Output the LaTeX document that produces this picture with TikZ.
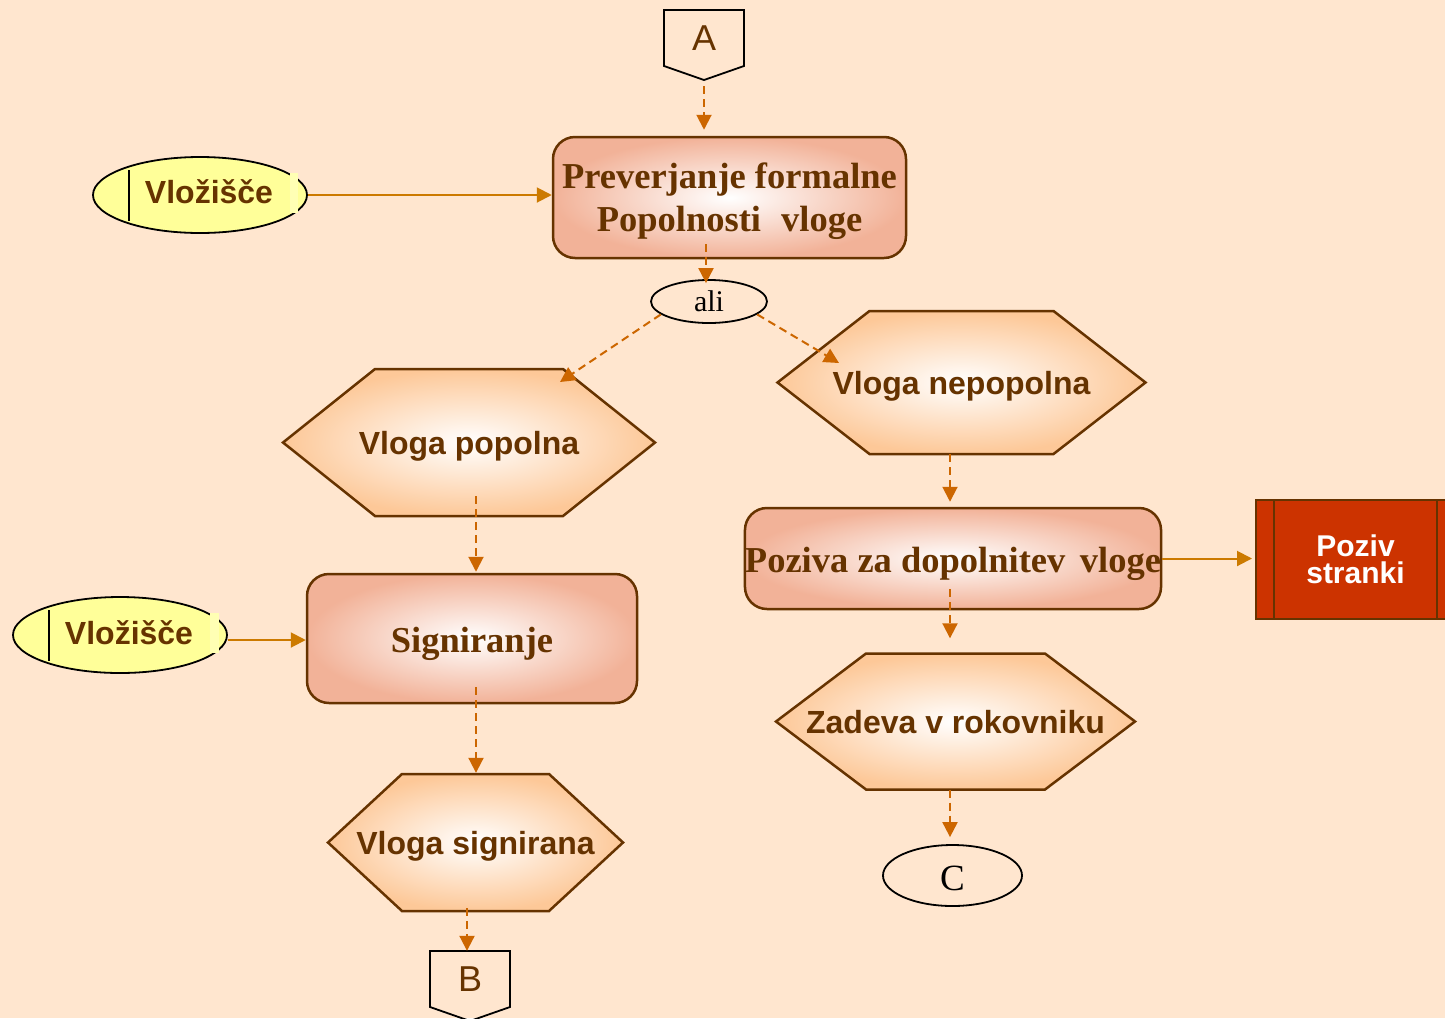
\documentclass[tikz,border=0pt]{standalone}
\usepackage{fontspec}
\setmainfont{Liberation Serif}
\setsansfont{Liberation Sans}
\usetikzlibrary{arrows.meta,shapes.geometric}

\definecolor{bgpeach}{RGB}{255,230,207}
\definecolor{ink}{RGB}{102,51,0}
\definecolor{dashor}{RGB}{204,102,0}
\definecolor{linkor}{RGB}{204,122,0}
\definecolor{salmon}{RGB}{242,178,152}
\definecolor{apricot}{RGB}{253,200,152}
\definecolor{note}{RGB}{255,255,153}
\definecolor{notehi}{RGB}{255,255,180}
\definecolor{brick}{RGB}{204,51,0}

\tikzset{
  flow/.style={draw=dashor, line width=2pt, dash pattern=on 8pt off 5pt,
    -{Triangle[length=15pt,width=15pt]}},
  feed/.style={draw=linkor, line width=2pt, -{Triangle[length=15pt,width=15pt]}},
  taskbox/.style={draw=ink, line width=2.5pt, rounded corners=22pt,
    shading=radial, inner color=white, outer color=salmon, text=ink,
    font=\bfseries\fontsize{36.5}{43}\selectfont, align=center, inner sep=0pt},
  hexline/.style={draw=ink, line width=2.5pt, shading=radial,
    inner color=white, outer color=apricot},
  hexlabel/.style={text=ink, font=\sffamily\bfseries\fontsize{32}{38}\selectfont,
    inner sep=0pt, text height=24pt, text depth=0pt},
  inbox/.style={ellipse, draw=black, line width=1.8pt, fill=note, text=ink,
    font=\sffamily\bfseries\fontsize{32}{38}\selectfont, inner sep=0pt,
    minimum width=214pt, minimum height=76pt, text height=16pt, text depth=0pt},
  pageref/.style={draw=black, line width=1.8pt},
  reflabel/.style={text=ink, font=\sffamily\fontsize{36}{36}\selectfont, inner sep=0pt},
  oval/.style={ellipse, draw=black, line width=1.8pt, inner sep=0pt, text=black},
}

% hexagon: name, centre x, centre y, half width, half height, corner inset, text
\newcommand\hexstep[7]{%
  \path[hexline] (#2-#4,#3) -- (#2-#4+#6,#3-#5) -- (#2+#4-#6,#3-#5)
    -- (#2+#4,#3) -- (#2+#4-#6,#3+#5) -- (#2-#4+#6,#3+#5) -- cycle;
  \node[hexlabel, minimum height=2*#5] (#1) at (#2,#3) {#7};%
}

\begin{document}
\begin{tikzpicture}[x=1pt, y=-1pt]
\useasboundingbox (0,0) rectangle (1445,1018);
\fill[bgpeach] (0,0) rectangle (1445,1018);

% off-page connector A
\path[pageref] (664,10) -- (744,10) -- (744,66) -- (704,80) -- (664,66) -- cycle;
\node[reflabel] (a) at (704,38) {A};
\coordinate (aout) at (704,86);

% main task boxes
\node[taskbox, minimum width=353pt, minimum height=121pt] (box1) at (729.5,197.5)
  {\rule{0pt}{34pt}Preverjanje formalne\\Popolnosti\hspace{0.3em} vloge};
\node[taskbox, minimum width=330pt, minimum height=129pt,
  text height=27pt, text depth=0pt] (sig) at (472,638.5) {Signiranje};
\node[taskbox, minimum width=416pt, minimum height=101pt,
  text height=27pt, text depth=0pt] (box3) at (953,558.5)
  {Poziva za dopolnitev\hspace{0.15em} vloge};

% intake ovals
\node[inbox] (v1) at (200,195) {\hspace*{18pt}Vložišče};
\draw[black, line width=1.8pt] (129,170) -- (129,221);
\fill[notehi] (290,173) rectangle (298,213);
\node[inbox, text height=18pt] (v2) at (120,635) {\hspace*{18pt}Vložišče};
\draw[black, line width=1.8pt] (49,610) -- (49,661);
\fill[notehi] (210,613) rectangle (219,653);

% decision
\node[oval, minimum width=116pt, minimum height=43pt,
  font=\fontsize{30}{30}\selectfont] (ali) at (709,301.5) {ali};

% states
\hexstep{h1}{469}{442.5}{186}{73.5}{92}{Vloga popolna}
\hexstep{h2}{961.5}{382.5}{184}{71.5}{92}{Vloga nepopolna}
\hexstep{h3}{475.5}{842.5}{147.5}{68.5}{74}{Vloga signirana}
\hexstep{h4}{955.5}{721.5}{179.5}{68}{90}{Zadeva v rokovniku}

% summons to the party
\node[draw=ink, line width=2pt, fill=brick, minimum width=199pt, minimum height=119pt,
  text=white, font=\sffamily\bfseries\fontsize{30}{27}\selectfont, align=center,
  inner sep=0pt] (poziv) at (1355.5,559.5) {Poziv\\stranki};
\draw[ink, line width=2pt] (1274,500) -- (1274,619);
\draw[ink, line width=2pt] (1437,500) -- (1437,619);

% off-page connectors B and C
\path[pageref] (430,951) -- (510,951) -- (510,1007) -- (470,1021) -- (430,1007) -- cycle;
\node[reflabel, minimum height=56pt] (b) at (470,979) {B};
\node[oval, minimum width=139pt, minimum height=61pt,
  font=\fontsize{37}{37}\selectfont, text height=29pt, text depth=0pt] (c) at (952.5,875.5) {C};

% arrow targets inside the hexagons
\coordinate (hit1) at (560,382);
\coordinate (hit2) at (839,363);

% connectors
\draw[flow] (aout) -- ([xshift=-25.5pt,yshift=6pt]box1.north);
\draw[feed] (v1.east) -- (v1.east -| box1.west);
\draw[flow] ([xshift=-23.5pt,yshift=15pt]box1.south) -- ([xshift=-3pt,yshift=-4pt]ali.north);
\draw[flow] (ali.195) -- (hit1);
\draw[flow] (ali.345) -- (hit2);
\draw[flow] ([xshift=7pt,yshift=20pt]h1.south) -- ([xshift=4pt,yshift=1pt]sig.north);
\draw[feed] ([yshift=-5pt]v2.east) -- ([yshift=-5pt]v2.east -| sig.west);
\draw[flow] ([xshift=4pt,yshift=17pt]sig.south) -- ([xshift=0.5pt,yshift=1pt]h3.north);
\draw[flow] ([xshift=-8.5pt,yshift=3pt]h3.south) -- ([xshift=-3pt]b.north);
\draw[flow] ([xshift=-11.5pt]h2.south) -- ([xshift=-3pt,yshift=5pt]box3.north);
\draw[feed, shorten >=3pt] (box3.east) -- (box3.east -| poziv.west);
\draw[flow] ([xshift=-3pt,yshift=21pt]box3.south) -- ([xshift=-5.5pt,yshift=15pt]h4.north);
\draw[flow] ([xshift=-5.5pt]h4.south) -- ([xshift=-2.5pt,yshift=7pt]c.north);
\end{tikzpicture}
\end{document}
